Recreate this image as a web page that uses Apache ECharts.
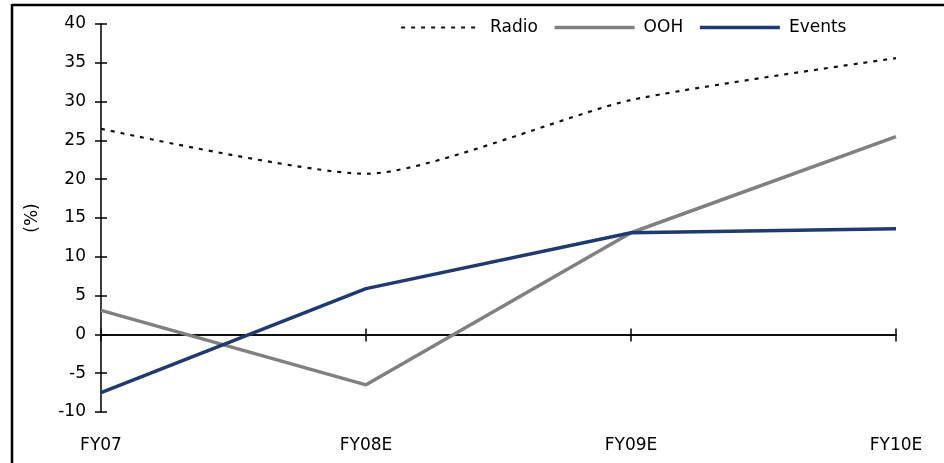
<!DOCTYPE html>
<html>
<head>
<meta charset="utf-8">
<script src="https://cdn.jsdelivr.net/npm/echarts@6/dist/echarts.min.js"></script>
<style>
  html, body { margin: 0; padding: 0; background: #fff; }
  #chart { width: 944px; height: 463px; }
</style>
</head>
<body>
<div id="chart"></div>
<script>
// Growth by segment (%), fiscal years
const categories = ['FY07', 'FY08E', 'FY09E', 'FY10E'];
const radio  = [26.5, 20.7, 30.2, 35.6];
const ooh    = [3.1, -6.5, 13.1, 25.5];
const events = [-7.5, 5.9, 13.1, 13.6];
const yMin = -10, yMax = 40, yStep = 5;

const FONT = '"DejaVu Sans", "Liberation Sans", Arial, sans-serif';
const grid = { left: 101, right: 48, top: 24, bottom: 51 };

const chart = echarts.init(document.getElementById('chart'), null, { renderer: 'canvas' });

chart.setOption({
  animation: false,
  backgroundColor: '#fff',
  textStyle: { fontFamily: FONT },
  grid: grid,
  legend: {
    left: 395, top: 14,
    itemWidth: 80, itemHeight: 14, itemGap: 15,
    itemStyle: { opacity: 0 },
    lineStyle: { width: 'inherit' },
    textStyle: { fontFamily: FONT, fontSize: 17, color: '#000', padding: [0, 0, 0, 4] },
    data: ['Radio', 'OOH', 'Events']
  },
  xAxis: [
    { // category labels along the bottom edge
      type: 'category', data: categories, boundaryGap: false, position: 'bottom',
      axisLine: { show: false, onZero: false }, axisTick: { show: false },
      axisLabel: { fontFamily: FONT, fontSize: 17, color: '#000', margin: 25 }
    },
    { // zero line with downward ticks
      type: 'category', data: categories, boundaryGap: false, position: 'bottom',
      axisLine: { onZero: true, onZeroAxisIndex: 0, lineStyle: { color: '#000', width: 1.5 } },
      axisTick: { show: true, length: 7, lineStyle: { color: '#000', width: 1.5 }, interval: 0 },
      axisLabel: { show: false }
    },
    { // upward half of the crossing ticks
      type: 'category', data: categories, boundaryGap: false, position: 'top',
      axisLine: { show: true, onZero: true, onZeroAxisIndex: 1, lineStyle: { color: '#000', width: 1.5 } },
      axisTick: { show: true, length: 6, lineStyle: { color: '#000', width: 1.5 }, interval: 0 },
      axisLabel: { show: false }
    }
  ],
  yAxis: [
    {
      type: 'value', min: yMin, max: yMax, interval: yStep,
      name: '(%)', nameLocation: 'middle', nameGap: 60, nameRotate: 90,
      nameTextStyle: { fontFamily: FONT, fontSize: 17, color: '#000' },
      axisLine: { show: true, onZero: false, lineStyle: { color: '#000', width: 1.5 } },
      axisTick: { show: true, length: 6, lineStyle: { color: '#000', width: 1.5 } },
      axisLabel: { fontFamily: FONT, fontSize: 17, color: '#000', margin: 15 },
      splitLine: { show: false }
    },
    {
      type: 'value', min: yMin, max: yMax, interval: yStep, position: 'left',
      axisLine: { show: false, onZero: false },
      axisTick: { show: true, inside: true, length: 6, lineStyle: { color: '#000', width: 1.5 } },
      axisLabel: { show: false },
      splitLine: { show: false }
    }
  ],
  series: [
    {
      name: 'Radio', type: 'line', data: radio, smooth: 0.22, symbol: 'none',
      lineStyle: { color: '#111', width: 2.2, type: [4, 6] },
      itemStyle: { color: '#111' }
    },
    {
      name: 'OOH', type: 'line', data: ooh, symbol: 'none',
      lineStyle: { color: '#808080', width: 3.5 },
      itemStyle: { color: '#808080' }
    },
    {
      name: 'Events', type: 'line', data: events, symbol: 'none',
      lineStyle: { color: '#1f3a70', width: 3.5 },
      itemStyle: { color: '#1f3a70' }
    }
  ],
  graphic: [
    { type: 'line', shape: { x1: 12, y1: 5, x2: 944, y2: 5 }, style: { stroke: '#000', lineWidth: 2.5 } },
    { type: 'line', shape: { x1: 12, y1: 4, x2: 12, y2: 463 }, style: { stroke: '#000', lineWidth: 2.5 } }
  ]
});
</script>
</body>
</html>
